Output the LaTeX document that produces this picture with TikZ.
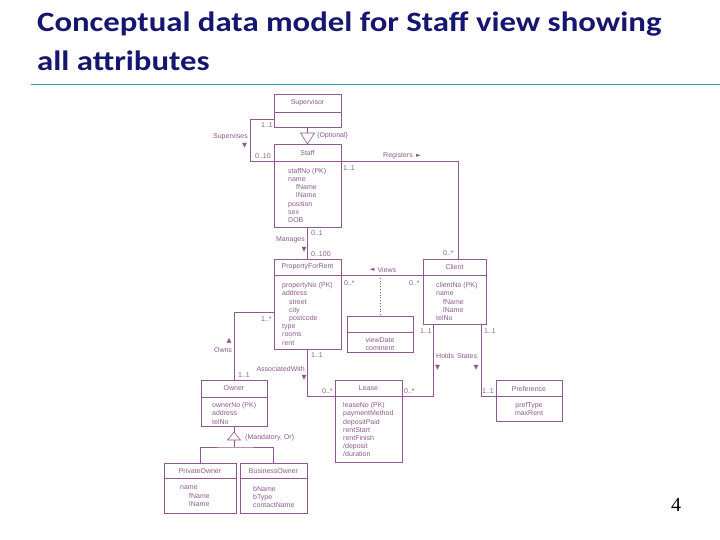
\documentclass[tikz,border=0pt]{standalone}
\usepackage{fontspec}
\setmainfont{Liberation Sans}
\newfontfamily\titlefont[FakeStretch=1.17]{Carlito}
\newfontfamily\symfont{DejaVu Sans}
\newfontfamily\numfont{Liberation Serif}
\definecolor{uml}{RGB}{140,90,140}
\definecolor{titleblue}{RGB}{22,22,112}
\definecolor{rulecol}{RGB}{40,160,172}
\tikzset{
  cls/.style={draw=uml, line width=0.6pt, inner sep=0pt, outer sep=0pt},
  umlline/.style={draw=uml, line width=0.6pt},
  lbl/.style={text=uml, inner sep=0pt, font=\fontsize{7}{8.2}\selectfont},
  attr/.style={lbl, align=left, anchor=north west},
  attrc/.style={lbl, align=center, anchor=north},
  sym/.style={text=uml, inner sep=0pt, font=\symfont\fontsize{6.5}{7}\selectfont},
  gentri/.style={draw=uml, line width=0.6pt, fill=white},
  titletext/.style={anchor=base west, inner sep=0pt, text=titleblue, font=\titlefont\bfseries\fontsize{28}{34}\selectfont},
}
\begin{document}
\begin{tikzpicture}[x=1pt,y=-1pt]
\useasboundingbox (0,0) rectangle (720,540);

% title
\node[titletext] (title1) at (37,31.5) {Conceptual data model for Staff view showing};
\node[titletext] (title2) at (37,70.5) {all attributes};
\draw[rulecol, line width=1.8pt] (31,84.5) -- (720,84.5);
\node[inner sep=0pt, font=\numfont\fontsize{20}{24}\selectfont] (pagenum) at (676,505) {4};

% classes
\node[cls, minimum width=67pt, minimum height=33pt] (supervisor) at (307.5,110.5) {};
\draw[umlline] (supervisor.west |- 0,112) -- (supervisor.east |- 0,112);
\node[lbl] (supervisorname) at (307.5,103) {Supervisor};

\node[cls, minimum width=67pt, minimum height=83pt] (staff) at (307.5,185.5) {};
\draw[umlline] (staff.west |- 0,161) -- (staff.east |- 0,161);
\node[lbl] (staffname) at (307.5,153) {Staff};
\node[attr] (staffattr) at (288,168) {staffNo (PK)\\name\\\hspace*{8pt}fName\\\hspace*{8pt}lName\\position\\sex\\DOB};

\node[cls, minimum width=67pt, minimum height=90pt] (pfr) at (307.5,304) {};
\draw[umlline] (pfr.west |- 0,275) -- (pfr.east |- 0,275);
\node[lbl] (pfrname) at (307.5,267) {PropertyForRent};
\node[attr] (pfrattr) at (282,282.5) {propertyNo (PK)\\address\\\hspace*{7pt}street\\\hspace*{7pt}city\\\hspace*{7pt}postcode\\type\\rooms\\rent};

\node[cls, minimum width=63pt, minimum height=65pt] (client) at (454.5,291.5) {};
\draw[umlline] (client.west |- 0,275) -- (client.east |- 0,275);
\node[lbl] (clientname) at (454.5,267) {Client};
\node[attr] (clientattr) at (436,282.5) {clientNo (PK)\\name\\\hspace*{7pt}fName\\\hspace*{7pt}lName\\telNo};

\node[cls, minimum width=66pt, minimum height=36pt] (views) at (380,334) {};
\draw[umlline] (views.west |- 0,332) -- (views.east |- 0,332);
\node[attrc] (viewsattr) at (380,337.5) {viewDate\\comment};

\node[cls, minimum width=66pt, minimum height=46pt] (owner) at (234,403) {};
\draw[umlline] (owner.west |- 0,397) -- (owner.east |- 0,397);
\node[lbl] (ownername) at (234,388.5) {Owner};
\node[attr] (ownerattr) at (212,402.5) {ownerNo (PK)\\address\\telNo};

\node[cls, minimum width=67pt, minimum height=82pt] (lease) at (368.5,421) {};
\draw[umlline] (lease.west |- 0,396) -- (lease.east |- 0,396);
\node[lbl] (leasename) at (368.5,388.5) {Lease};
\node[attr] (leaseattr) at (343,402.5) {leaseNo (PK)\\paymentMethod\\depositPaid\\rentStart\\rentFinish\\/deposit\\/duration};

\node[cls, minimum width=66pt, minimum height=41pt] (pref) at (529,400.5) {};
\draw[umlline] (pref.west |- 0,396) -- (pref.east |- 0,396);
\node[lbl] (prefname) at (529,388.5) {Preference};
\node[attrc] (prefattr) at (529,402) {prefType\\maxRent};

\node[cls, minimum width=72pt, minimum height=50pt] (privowner) at (200,488) {};
\draw[umlline] (privowner.west |- 0,478) -- (privowner.east |- 0,478);
\node[lbl] (privownername) at (200,470.5) {PrivateOwner};
\node[attr] (privownerattr) at (180,486) {name\\\hspace*{9pt}fName\\\hspace*{9pt}lName};

\node[cls, minimum width=67pt, minimum height=50pt] (busowner) at (273.5,488) {};
\draw[umlline] (busowner.west |- 0,478) -- (busowner.east |- 0,478);
\node[lbl] (busownername) at (273.5,470.5) {BusinessOwner};
\node[attr] (busownerattr) at (253,486) {bName\\bType\\contactName};

% generalization Supervisor / Staff
\draw[umlline] (supervisor.south) -- (307.5,133);
\draw[gentri] (300.5,133) -- (314.5,133) -- (staff.north) -- cycle;
\node[lbl, anchor=west] (optional) at (317,135.5) {\{Optional\}};

% generalization Owner
\draw[umlline] (owner.south) -- (234,432);
\draw[gentri] (234,432) -- (240.5,440) -- (227.5,440) -- cycle;
\draw[umlline] (234,440) -- (234,447);
\draw[umlline] (privowner.north) |- (234,447) -| (busowner.north);
\node[lbl, anchor=west] (mandatory) at (245,438) {\{Mandatory, Or\}};

% Supervises
\draw[umlline] (supervisor.west |- 0,119) -| (250,161) -- (staff.west |- 0,161);
\node[lbl, anchor=west] (sup11) at (261,125) {1..1};
\node[lbl, anchor=east] (supervises) at (248,136.5) {Supervises};
\node[sym] (supervisesarr) at (244.5,146) {▼};
\node[lbl, anchor=west] (sup010) at (255,156) {0..10};

% Registers
\draw[umlline] (staff.east |- 0,161) -| (458,0 |- client.north);
\node[lbl, anchor=west] (registers) at (383,156) {Registers};
\node[sym, anchor=west] (registersarr) at (416,156) {►};
\node[lbl, anchor=west] (reg11) at (343,168) {1..1};
\node[lbl, anchor=west] (reg0n) at (443,253) {0..*};

% Manages
\draw[umlline] (staff.south) -- (pfr.north);
\node[lbl, anchor=west] (man01) at (311,233) {0..1};
\node[lbl, anchor=east] (manages) at (305,240) {Manages};
\node[sym] (managesarr) at (304,249.5) {▼};
\node[lbl, anchor=west] (man0100) at (311,254) {0..100};

% Views
\draw[umlline] (pfr.east |- 0,275) -- (client.west |- 0,275);
\draw[draw=uml, line width=0.8pt, dotted] (views.north |- 0,275) -- (views.north);
\node[sym, anchor=west] (viewsarr) at (369.5,270) {◄};
\node[lbl, anchor=west] (viewslbl) at (377.5,270) {Views};
\node[lbl, anchor=west] (vw1) at (344,283) {0..*};
\node[lbl, anchor=west] (vw2) at (409,283) {0..*};

% Owns
\draw[umlline] (pfr.west |- 0,312) -| (owner.north);
\node[lbl, anchor=west] (own1n) at (261,319) {1..*};
\node[sym] (ownsarr) at (229,341) {▲};
\node[lbl] (owns) at (223,350) {Owns};
\node[lbl, anchor=west] (own11) at (238,375) {1..1};

% AssociatedWith
\draw[umlline] (pfr.south) |- (lease.west |- 0,396);
\node[lbl, anchor=west] (aw11) at (311,355) {1..1};
\node[lbl, anchor=east] (assocwith) at (305,369) {AssociatedWith};
\node[sym] (assocarr) at (304,378) {▼};
\node[lbl, anchor=west] (aw0n) at (322,391) {0..*};

% Holds
\draw[umlline] (433,0 |- client.south) |- (lease.east |- 0,396);
\node[lbl, anchor=west] (ho11) at (420,331) {1..1};
\node[lbl, anchor=west] (holds) at (436,356) {Holds};
\node[sym] (holdsarr) at (437.5,368) {▼};
\node[lbl, anchor=west] (ho0n) at (404,391) {0..*};

% States
\draw[umlline] (481,0 |- client.south) |- (pref.west |- 0,396);
\node[lbl, anchor=west] (st11a) at (484,331) {1..1};
\node[lbl, anchor=west] (states) at (457,356) {States};
\node[sym] (statesarr) at (476,368) {▼};
\node[lbl, anchor=west] (st11b) at (482,391) {1..1};
\end{tikzpicture}
\end{document}
